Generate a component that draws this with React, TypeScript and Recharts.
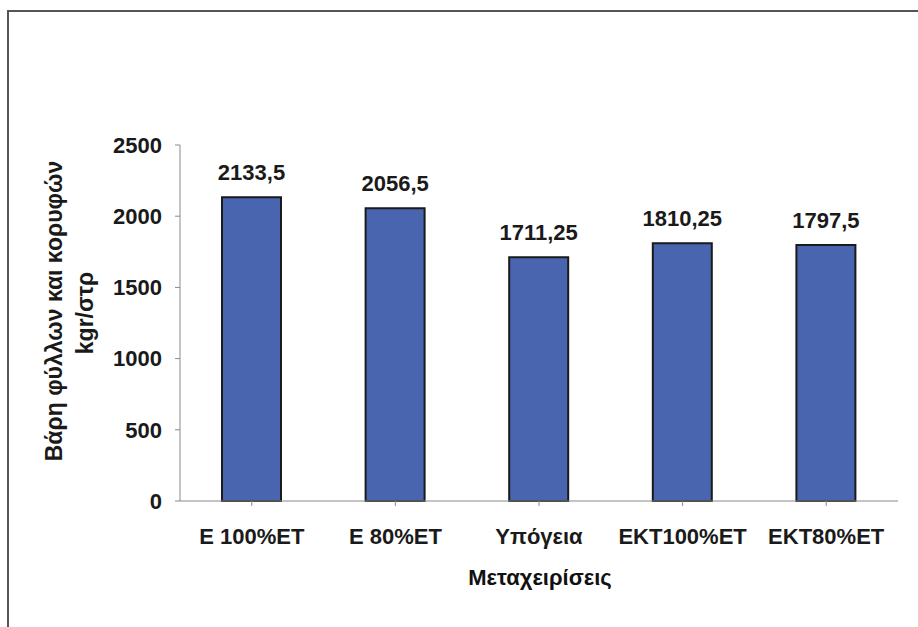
import React from 'react';
import { BarChart, Bar, XAxis, YAxis, LabelList } from 'recharts';

const categories = ['E 100%ET', 'E 80%ET', 'Υπόγεια', 'EKT100%ET', 'EKT80%ET'];
const weights = [2133.5, 2056.5, 1711.25, 1810.25, 1797.5];
const yTicks = [0, 500, 1000, 1500, 2000, 2500];
const yTitleLines = ['Βάρη φύλλων και κορυφών', 'kgr/στρ'];
const xTitle = 'Μεταχειρίσεις';

const data = categories.map((name, i) => ({ name, value: weights[i] }));

const FONT = '"Liberation Sans", Arial, sans-serif';

const fmt = (v: any) => String(v).replace('.', ',');

export default function App() {
  return (
    <div style={{ position: 'absolute', left: 0, top: 0, width: 918, height: 627, background: '#fff' }}>
      <div
        style={{
          position: 'absolute',
          left: 7,
          top: 10,
          width: 911,
          height: 617,
          borderLeft: '2px solid #555',
          borderTop: '2px solid #555',
          boxSizing: 'border-box',
        }}
      />
      <div style={{ position: 'absolute', left: 0, top: 0 }}>
        <BarChart
          width={918}
          height={627}
          data={data}
          margin={{ top: 145, right: 20, bottom: 96, left: 120 }}
          barSize={59}
        >
          <XAxis
            dataKey="name"
            height={30}
            axisLine={{ stroke: '#8a8a8a', strokeWidth: 1 }}
            tickLine={{ stroke: '#8a8a8a' }}
            tickSize={5}
            tickMargin={22}
            interval={0}
            tick={{ fill: '#1a1a1a', fontSize: 22, fontWeight: 'bold', fontFamily: FONT }}
            label={(props: any) => (
              <text
                x={540}
                y={585}
                textAnchor="middle"
                fill="#111"
                fontSize={22}
                fontWeight="bold"
                fontFamily={FONT}
              >
                {xTitle}
              </text>
            )}
          />
          <YAxis
            width={60}
            domain={[0, 2500]}
            ticks={yTicks}
            axisLine={{ stroke: '#8a8a8a', strokeWidth: 1 }}
            tickLine={{ stroke: '#8a8a8a' }}
            tickSize={5}
            tickMargin={13}
            tick={{ fill: '#1a1a1a', fontSize: 22, fontWeight: 'bold', fontFamily: FONT }}
            label={(props: any) => (
              <g>
                <text
                  transform="translate(62, 311) rotate(-90)"
                  textAnchor="middle"
                  fill="#1a1a1a"
                  fontSize={23}
                  fontWeight="bold"
                  fontFamily={FONT}
                >
                  {yTitleLines[0]}
                </text>
                <text
                  transform="translate(93, 313) rotate(-90)"
                  textAnchor="middle"
                  fill="#1a1a1a"
                  fontSize={23}
                  fontWeight="bold"
                  fontFamily={FONT}
                >
                  {yTitleLines[1]}
                </text>
              </g>
            )}
          />
          <Bar dataKey="value" fill="#4a65b0" stroke="#1a1a1a" strokeWidth={2} isAnimationActive={false}>
            <LabelList
              dataKey="value"
              position="top"
              offset={17}
              formatter={fmt}
              fill="#1a1a1a"
              fontSize={22}
              fontWeight="bold"
              fontFamily={FONT}
            />
          </Bar>
        </BarChart>
      </div>
    </div>
  );
}
